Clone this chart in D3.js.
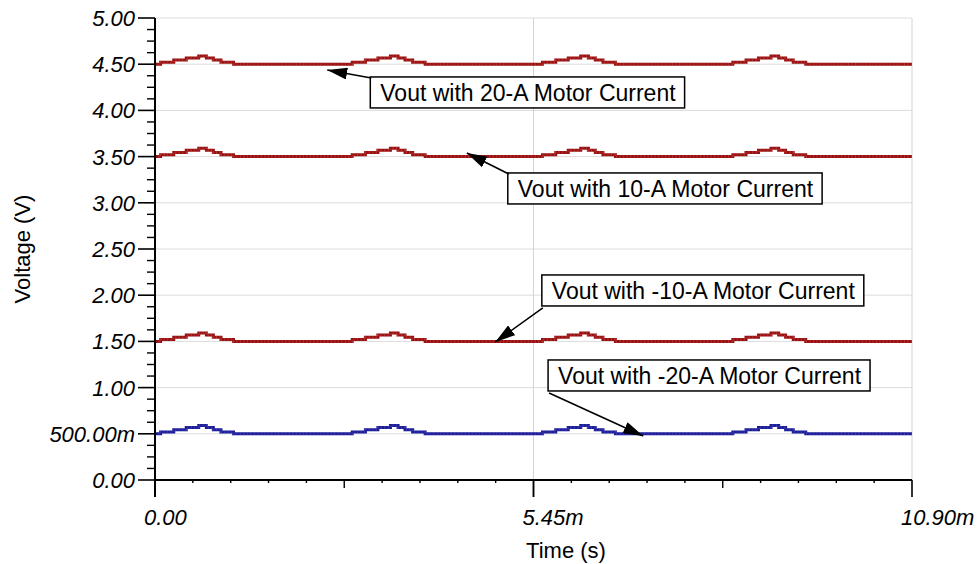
<!DOCTYPE html>
<html>
<head>
<meta charset="utf-8">
<script src="https://cdn.jsdelivr.net/npm/d3@7"></script>
<style>
  html, body { margin: 0; padding: 0; background: #fff; }
  svg { display: block; font-family: "Liberation Sans", Arial, Helvetica, sans-serif; }
</style>
</head>
<body>
<svg id="chart" width="979" height="564"></svg>
<script>
// ---- data (time in ms, voltage in V) ----
const timeMs = [0.00,
  0.08, 0.27, 0.45, 0.63, 0.74, 0.84, 0.95, 1.13,
  2.84, 3.03, 3.21, 3.39, 3.50, 3.60, 3.71, 3.89,
  5.58, 5.77, 5.95, 6.13, 6.24, 6.34, 6.45, 6.63,
  8.32, 8.51, 8.69, 8.87, 8.98, 9.08, 9.19, 9.37,
  10.90];
const vout20A  = [4.50,
  4.52, 4.545, 4.568, 4.59, 4.568, 4.545, 4.52, 4.50,
  4.52, 4.545, 4.568, 4.59, 4.568, 4.545, 4.52, 4.50,
  4.52, 4.545, 4.568, 4.59, 4.568, 4.545, 4.52, 4.50,
  4.52, 4.545, 4.568, 4.59, 4.568, 4.545, 4.52, 4.50,
  4.50];
const vout10A  = [3.50,
  3.52, 3.545, 3.568, 3.59, 3.568, 3.545, 3.52, 3.50,
  3.52, 3.545, 3.568, 3.59, 3.568, 3.545, 3.52, 3.50,
  3.52, 3.545, 3.568, 3.59, 3.568, 3.545, 3.52, 3.50,
  3.52, 3.545, 3.568, 3.59, 3.568, 3.545, 3.52, 3.50,
  3.50];
const voutM10A = [1.50,
  1.52, 1.545, 1.568, 1.59, 1.568, 1.545, 1.52, 1.50,
  1.52, 1.545, 1.568, 1.59, 1.568, 1.545, 1.52, 1.50,
  1.52, 1.545, 1.568, 1.59, 1.568, 1.545, 1.52, 1.50,
  1.52, 1.545, 1.568, 1.59, 1.568, 1.545, 1.52, 1.50,
  1.50];
const voutM20A = [0.50,
  0.52, 0.545, 0.568, 0.59, 0.568, 0.545, 0.52, 0.50,
  0.52, 0.545, 0.568, 0.59, 0.568, 0.545, 0.52, 0.50,
  0.52, 0.545, 0.568, 0.59, 0.568, 0.545, 0.52, 0.50,
  0.52, 0.545, 0.568, 0.59, 0.568, 0.545, 0.52, 0.50,
  0.50];

const yTickValues = [0, 0.5, 1, 1.5, 2, 2.5, 3, 3.5, 4, 4.5, 5];
const yTickLabels = ["0.00", "500.00m", "1.00", "1.50", "2.00", "2.50", "3.00", "3.50", "4.00", "4.50", "5.00"];
const xTickValues = [0, 5.45, 10.90];
const xTickLabels = ["0.00", "5.45m", "10.90m"];

const seriesNames  = ["Vout with 20-A Motor Current", "Vout with 10-A Motor Current",
                      "Vout with -10-A Motor Current", "Vout with -20-A Motor Current"];
const seriesValues = [vout20A, vout10A, voutM10A, voutM20A];

// annotation anchors in data units: arrow tip (t, v) and box top-left (t, v)
const annTipT = [2.48, 4.49, 4.90, 7.03];
const annTipV = [4.437, 3.539, 1.494, 0.476];
const annBoxT = [3.10, 5.08, 5.57, 5.66];
const annBoxV = [4.362, 3.323, 2.219, 1.299];

// ---- layout ----
const svg = d3.select("#chart");
const W = 979, H = 564;
const m = { left: 155, right: 67, top: 18, bottom: 84 };
const x = d3.scaleLinear().domain([0, 10.90]).range([m.left, W - m.right]);
const y = d3.scaleLinear().domain([0, 5]).range([H - m.bottom, m.top]);
const FONT = 22;
const ANN_FONT = 23;

// grid
const grid = svg.append("g");
grid.selectAll("line.h").data(yTickValues.filter(v => v > 0)).join("line")
  .attr("x1", x(0)).attr("x2", x(10.90))
  .attr("y1", d => y(d)).attr("y2", d => y(d))
  .attr("stroke", "#dcdcdc").attr("stroke-width", 1);
grid.selectAll("line.v").data([5.45, 10.90]).join("line")
  .attr("x1", d => x(d)).attr("x2", d => x(d))
  .attr("y1", y(0)).attr("y2", y(5))
  .attr("stroke", "#d4d4d4").attr("stroke-width", 1);

// series
const line = d3.line().x((d, i) => x(timeMs[i])).y(d => y(d)).curve(d3.curveStepAfter);
const colors = ["#9a1010", "#9a1010", "#9a1010", "#1c1c96"];
const light  = ["#c85a5a", "#c85a5a", "#c85a5a", "#6060d0"];
seriesValues.forEach((vals, k) => {
  svg.append("path").attr("d", line(vals)).attr("fill", "none")
    .attr("stroke", colors[k]).attr("stroke-width", 3).attr("stroke-linejoin", "miter");
  svg.append("path").attr("d", line(vals)).attr("fill", "none")
    .attr("stroke", light[k]).attr("stroke-width", 3).attr("stroke-dasharray", "1,2.5")
    .attr("opacity", 0.45);
});

// axes
const ax = svg.append("g").attr("stroke", "#000");
ax.append("line").attr("x1", x(0)).attr("x2", x(0)).attr("y1", y(5)).attr("y2", y(0) + 17)
  .attr("stroke-width", 2);
ax.append("line").attr("x1", x(0)).attr("x2", x(10.90)).attr("y1", y(0)).attr("y2", y(0))
  .attr("stroke-width", 2);
ax.selectAll("line.ymaj").data(yTickValues).join("line")
  .attr("x1", x(0) - 17).attr("x2", x(0))
  .attr("y1", d => y(d)).attr("y2", d => y(d)).attr("stroke-width", 1.6);
const yMinor = d3.range(0, 40).map(i => i * 0.125).filter(v => Math.abs(v * 2 - Math.round(v * 2)) > 1e-6);
ax.selectAll("line.ymin").data(yMinor).join("line")
  .attr("x1", x(0) - 8).attr("x2", x(0))
  .attr("y1", d => y(d)).attr("y2", d => y(d)).attr("stroke-width", 1.4);
const xMinor = d3.range(1, 20).map(i => i * 0.545);
ax.selectAll("line.xmin").data(xMinor).join("line")
  .attr("x1", d => x(d)).attr("x2", d => x(d))
  .attr("y1", y(0)).attr("y2", (d, i) => (i + 1) % 5 === 0 ? y(0) + (((i + 1) % 10 === 0) ? 17 : 8) : y(0) + 3)
  .attr("stroke-width", 1.4);
ax.selectAll("line.xmaj").data(xTickValues).join("line")
  .attr("x1", d => x(d)).attr("x2", d => x(d))
  .attr("y1", y(0)).attr("y2", y(0) + 17).attr("stroke-width", 1.6);

// tick labels
svg.append("g").selectAll("text").data(yTickValues).join("text")
  .attr("x", x(0) - 20).attr("y", d => y(d)).attr("dy", "0.36em")
  .attr("text-anchor", "end").attr("font-size", FONT).attr("font-style", "italic")
  .attr("fill", "#000").text((d, i) => yTickLabels[i]);
svg.append("g").selectAll("text").data(xTickValues).join("text")
  .attr("x", d => x(d) - 11).attr("y", y(0) + 45)
  .attr("text-anchor", "start").attr("font-size", FONT).attr("font-style", "italic")
  .attr("fill", "#000").text((d, i) => xTickLabels[i]);

// axis titles
svg.append("text").attr("x", 566).attr("y", 558).attr("text-anchor", "middle")
  .attr("font-size", FONT).attr("fill", "#000").text("Time (s)");
svg.append("text").attr("transform", "translate(30,249) rotate(-90)")
  .attr("text-anchor", "middle").attr("font-size", FONT).attr("fill", "#000").text("Voltage (V)");

// arrow marker
svg.append("defs").append("marker").attr("id", "arr")
  .attr("viewBox", "0 0 20 12").attr("refX", 20).attr("refY", 6)
  .attr("markerWidth", 20).attr("markerHeight", 12).attr("markerUnits", "userSpaceOnUse")
  .attr("orient", "auto")
  .append("path").attr("d", "M0,0 L20,6 L0,12 Z").attr("fill", "#000");

// annotations
seriesNames.forEach((name, k) => {
  const bx = x(annBoxT[k]), by = y(annBoxV[k]);
  const g = svg.append("g");
  const rect = g.append("rect").attr("fill", "#fff").attr("stroke", "#000").attr("stroke-width", 1.5);
  const t = g.append("text").attr("font-size", ANN_FONT).attr("fill", "#000").text(name);
  const tw = t.node().getComputedTextLength();
  const bw = tw + 19, bh = 31;
  rect.attr("x", bx).attr("y", by).attr("width", bw).attr("height", bh);
  t.attr("x", bx + 10).attr("y", by + 24);
  const tipX = x(annTipT[k]), tipY = y(annTipV[k]);
  const tailX = bx + 1;
  const tailY = tipY > by + bh ? by + bh + 2 : by + 1;
  svg.append("line").attr("x1", tailX).attr("y1", tailY).attr("x2", tipX).attr("y2", tipY)
    .attr("stroke", "#000").attr("stroke-width", 1.6).attr("marker-end", "url(#arr)");
});
</script>
</body>
</html>
